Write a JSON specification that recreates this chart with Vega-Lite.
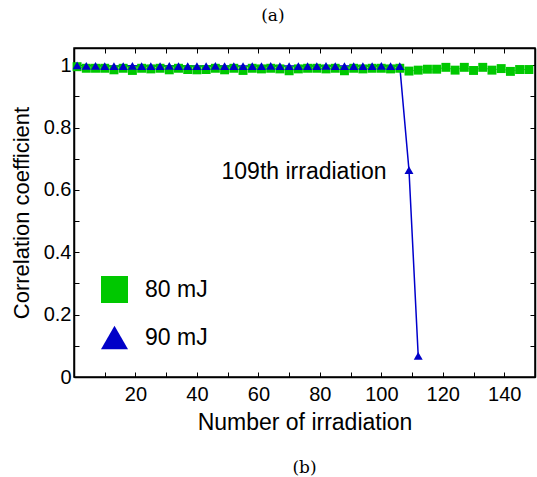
{
  "$schema": "https://vega.github.io/schema/vega-lite/v6.json",
  "padding": {"left": 9, "top": 6, "right": 0, "bottom": 0},
  "background": "white",
  "title": {"text": "(a)", "font": "DejaVu Serif", "fontSize": 17, "fontWeight": "normal", "color": "black", "anchor": "middle", "offset": 22},
  "config": {
    "view": {"stroke": "black", "strokeWidth": 1.5},
    "font": "Liberation Sans",
    "concat": {"spacing": 0}
  },
  "resolve": {"legend": {"color": "independent", "shape": "independent", "size": "independent"}},
  "vconcat": [
    {
      "width": 461,
      "height": 329,
      "title": {"text": "(b)", "orient": "bottom", "font": "DejaVu Serif", "fontSize": 17, "fontWeight": "normal", "color": "black", "anchor": "middle", "offset": 26},
      "data": {
        "values": [
          {"n": 1, "r": 0.995, "series": "80 mJ"},
          {"n": 4, "r": 0.99, "series": "80 mJ"},
          {"n": 7, "r": 0.99, "series": "80 mJ"},
          {"n": 10, "r": 0.99, "series": "80 mJ"},
          {"n": 13, "r": 0.985, "series": "80 mJ"},
          {"n": 16, "r": 0.99, "series": "80 mJ"},
          {"n": 19, "r": 0.983, "series": "80 mJ"},
          {"n": 22, "r": 0.99, "series": "80 mJ"},
          {"n": 25, "r": 0.988, "series": "80 mJ"},
          {"n": 28, "r": 0.99, "series": "80 mJ"},
          {"n": 31, "r": 0.985, "series": "80 mJ"},
          {"n": 34, "r": 0.99, "series": "80 mJ"},
          {"n": 37, "r": 0.986, "series": "80 mJ"},
          {"n": 40, "r": 0.985, "series": "80 mJ"},
          {"n": 43, "r": 0.986, "series": "80 mJ"},
          {"n": 46, "r": 0.99, "series": "80 mJ"},
          {"n": 49, "r": 0.985, "series": "80 mJ"},
          {"n": 52, "r": 0.99, "series": "80 mJ"},
          {"n": 55, "r": 0.983, "series": "80 mJ"},
          {"n": 58, "r": 0.99, "series": "80 mJ"},
          {"n": 61, "r": 0.988, "series": "80 mJ"},
          {"n": 64, "r": 0.99, "series": "80 mJ"},
          {"n": 67, "r": 0.988, "series": "80 mJ"},
          {"n": 70, "r": 0.982, "series": "80 mJ"},
          {"n": 73, "r": 0.988, "series": "80 mJ"},
          {"n": 76, "r": 0.99, "series": "80 mJ"},
          {"n": 79, "r": 0.99, "series": "80 mJ"},
          {"n": 82, "r": 0.988, "series": "80 mJ"},
          {"n": 85, "r": 0.99, "series": "80 mJ"},
          {"n": 88, "r": 0.982, "series": "80 mJ"},
          {"n": 91, "r": 0.99, "series": "80 mJ"},
          {"n": 94, "r": 0.988, "series": "80 mJ"},
          {"n": 97, "r": 0.99, "series": "80 mJ"},
          {"n": 100, "r": 0.99, "series": "80 mJ"},
          {"n": 103, "r": 0.988, "series": "80 mJ"},
          {"n": 106, "r": 0.99, "series": "80 mJ"},
          {"n": 109, "r": 0.981, "series": "80 mJ"},
          {"n": 112, "r": 0.984, "series": "80 mJ"},
          {"n": 115, "r": 0.987, "series": "80 mJ"},
          {"n": 118, "r": 0.987, "series": "80 mJ"},
          {"n": 121, "r": 0.993, "series": "80 mJ"},
          {"n": 124, "r": 0.984, "series": "80 mJ"},
          {"n": 127, "r": 0.993, "series": "80 mJ"},
          {"n": 130, "r": 0.983, "series": "80 mJ"},
          {"n": 133, "r": 0.993, "series": "80 mJ"},
          {"n": 136, "r": 0.984, "series": "80 mJ"},
          {"n": 139, "r": 0.989, "series": "80 mJ"},
          {"n": 142, "r": 0.98, "series": "80 mJ"},
          {"n": 145, "r": 0.986, "series": "80 mJ"},
          {"n": 148, "r": 0.986, "series": "80 mJ"},
          {"n": 1, "r": 0.999, "series": "90 mJ"},
          {"n": 4, "r": 0.998, "series": "90 mJ"},
          {"n": 7, "r": 0.998, "series": "90 mJ"},
          {"n": 10, "r": 0.997, "series": "90 mJ"},
          {"n": 13, "r": 0.997, "series": "90 mJ"},
          {"n": 16, "r": 0.997, "series": "90 mJ"},
          {"n": 19, "r": 0.998, "series": "90 mJ"},
          {"n": 22, "r": 0.997, "series": "90 mJ"},
          {"n": 25, "r": 0.997, "series": "90 mJ"},
          {"n": 28, "r": 0.997, "series": "90 mJ"},
          {"n": 31, "r": 0.998, "series": "90 mJ"},
          {"n": 34, "r": 0.997, "series": "90 mJ"},
          {"n": 37, "r": 0.997, "series": "90 mJ"},
          {"n": 40, "r": 0.997, "series": "90 mJ"},
          {"n": 43, "r": 0.997, "series": "90 mJ"},
          {"n": 46, "r": 0.998, "series": "90 mJ"},
          {"n": 49, "r": 0.997, "series": "90 mJ"},
          {"n": 52, "r": 0.997, "series": "90 mJ"},
          {"n": 55, "r": 0.997, "series": "90 mJ"},
          {"n": 58, "r": 0.997, "series": "90 mJ"},
          {"n": 61, "r": 0.997, "series": "90 mJ"},
          {"n": 64, "r": 0.998, "series": "90 mJ"},
          {"n": 67, "r": 0.997, "series": "90 mJ"},
          {"n": 70, "r": 0.997, "series": "90 mJ"},
          {"n": 73, "r": 0.997, "series": "90 mJ"},
          {"n": 76, "r": 0.997, "series": "90 mJ"},
          {"n": 79, "r": 0.997, "series": "90 mJ"},
          {"n": 82, "r": 0.998, "series": "90 mJ"},
          {"n": 85, "r": 0.997, "series": "90 mJ"},
          {"n": 88, "r": 0.997, "series": "90 mJ"},
          {"n": 91, "r": 0.997, "series": "90 mJ"},
          {"n": 94, "r": 0.997, "series": "90 mJ"},
          {"n": 97, "r": 0.997, "series": "90 mJ"},
          {"n": 100, "r": 0.998, "series": "90 mJ"},
          {"n": 103, "r": 0.997, "series": "90 mJ"},
          {"n": 106, "r": 0.997, "series": "90 mJ"},
          {"n": 109, "r": 0.663, "series": "90 mJ"},
          {"n": 112, "r": 0.068, "series": "90 mJ"}
        ]
      },
      "resolve": {"axis": {"x": "independent", "y": "independent"}},
      "layer": [
        {
          "transform": [{"filter": "datum.series == '80 mJ'"}],
          "mark": {"type": "line", "color": "#44cc44", "strokeWidth": 1},
          "encoding": {
            "x": {"field": "n", "type": "quantitative", "scale": {"domain": [0, 150], "nice": false, "zero": false},
              "axis": {"orient": "bottom", "title": "Number of irradiation", "values": [0, 10, 20, 30, 40, 50, 60, 70, 80, 90, 100, 110, 120, 130, 140, 150],
                "labelExpr": "(datum.value % 20 == 0 && datum.value > 0) ? datum.label : ''", "labelOverlap": false, "labelFlush": false,
                "grid": false, "tickSize": -5, "tickColor": "black", "tickWidth": 1, "domainColor": "black", "domainWidth": 1.5,
                "labelFontSize": 20, "labelColor": "black", "labelPadding": 12, "titleFontSize": 23, "titleFontWeight": "normal", "titleColor": "black", "titlePadding": 7}},
            "y": {"field": "r", "type": "quantitative", "scale": {"domain": [0, 1.055], "nice": false, "zero": false},
              "axis": {"orient": "left", "title": "Correlation coefficient", "values": [0, 0.1, 0.2, 0.3, 0.4, 0.5, 0.6, 0.7, 0.8, 0.9, 1],
                "labelExpr": "(round(datum.value * 10) % 2 == 0) ? format(datum.value, '.1~f') : ''", "labelOverlap": false, "labelFlush": false,
                "grid": false, "tickSize": -5, "tickColor": "black", "tickWidth": 1, "domainColor": "black", "domainWidth": 1.5,
                "labelFontSize": 20, "labelColor": "black", "labelPadding": 8, "titleFontSize": 22, "titleFontWeight": "normal", "titleColor": "black", "titlePadding": 10}}
          }
        },
        {
          "transform": [{"filter": "datum.series == '90 mJ'"}],
          "mark": {"type": "line", "color": "#0000cc", "strokeWidth": 1.5},
          "encoding": {
            "x": {"field": "n", "type": "quantitative",
              "axis": {"orient": "top", "title": null, "labels": false, "values": [0, 10, 20, 30, 40, 50, 60, 70, 80, 90, 100, 110, 120, 130, 140, 150],
                "grid": false, "tickSize": -5, "tickColor": "black", "tickWidth": 1, "domainColor": "black", "domainWidth": 1.5}},
            "y": {"field": "r", "type": "quantitative",
              "axis": {"orient": "right", "title": null, "labels": false, "values": [0, 0.1, 0.2, 0.3, 0.4, 0.5, 0.6, 0.7, 0.8, 0.9, 1],
                "grid": false, "tickSize": -5, "tickColor": "black", "tickWidth": 1, "domainColor": "black", "domainWidth": 1.5}}
          }
        },
        {
          "mark": {"type": "point", "filled": true, "opacity": 1, "strokeWidth": 0, "size": 80},
          "encoding": {
            "x": {"field": "n", "type": "quantitative", "axis": null},
            "y": {"field": "r", "type": "quantitative", "axis": null},
            "color": {"field": "series", "type": "nominal", "scale": {"domain": ["80 mJ", "90 mJ"], "range": ["#00c800", "#0000c8"]},
              "legend": {"title": null, "orient": "bottom-left", "offset": 27, "padding": 0, "symbolSize": 729, "symbolStrokeWidth": 0, "symbolOpacity": 1,
                "labelFontSize": 23, "labelColor": "black", "labelOffset": 17, "rowPadding": 21}},
            "shape": {"field": "series", "type": "nominal", "scale": {"domain": ["80 mJ", "90 mJ"], "range": ["square", "triangle-up"]},
              "legend": {"title": null, "orient": "bottom-left", "offset": 27, "padding": 0, "symbolSize": 729, "symbolStrokeWidth": 0, "symbolOpacity": 1,
                "labelFontSize": 23, "labelColor": "black", "labelOffset": 17, "rowPadding": 21}}
          }
        },
        {
          "data": {"values": [{"n": 48, "r": 0.657, "label": "109th irradiation"}]},
          "mark": {"type": "text", "align": "left", "baseline": "middle", "fontSize": 23, "color": "black"},
          "encoding": {
            "x": {"field": "n", "type": "quantitative", "axis": null},
            "y": {"field": "r", "type": "quantitative", "axis": null},
            "text": {"field": "label"}
          }
        }
      ]
    }
  ]
}
